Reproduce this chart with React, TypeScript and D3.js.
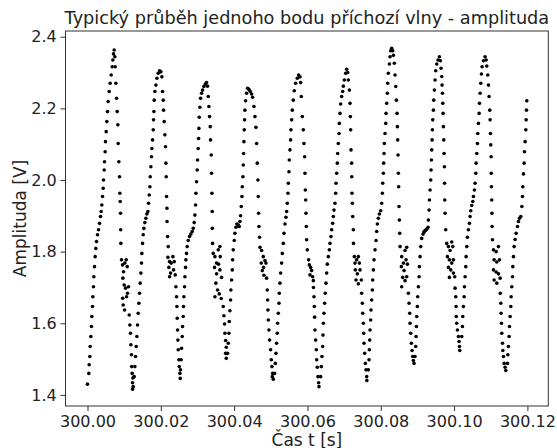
// Scatter of one point of the incoming wave: amplitude over time

import React, { useEffect, useRef } from "react"
import * as d3 from "d3"

// samples as [ms after 300 s, amplitude V], one array per period of the wave
const cycle1: [number, number][] = [
  [0.00, 1.430], [0.36, 1.460], [0.46, 1.484], [0.64, 1.507], [0.73, 1.535], [0.91, 1.563], [1.09, 1.591], [1.18, 1.619],
  [1.37, 1.647], [1.46, 1.674], [1.64, 1.702], [1.73, 1.730], [1.91, 1.758], [2.09, 1.786], [2.28, 1.809], [2.46, 1.828],
  [2.73, 1.847], [3.01, 1.861], [3.28, 1.879], [3.55, 1.898], [3.73, 1.912], [3.91, 1.930], [4.10, 1.954], [4.28, 1.977],
  [4.37, 2.000], [4.55, 2.028], [4.64, 2.051], [4.82, 2.079], [4.91, 2.107], [5.10, 2.135], [5.28, 2.163], [5.46, 2.191],
  [5.64, 2.219], [5.92, 2.247], [6.19, 2.270], [6.46, 2.293], [6.73, 2.316], [6.92, 2.335], [7.10, 2.352], [7.28, 2.363],
  [7.46, 2.344], [7.55, 2.316], [7.74, 2.270], [7.92, 2.228], [8.10, 2.191], [8.28, 2.154], [8.37, 2.102], [8.55, 2.051],
  [8.74, 2.009], [8.83, 1.963], [8.92, 1.940], [9.01, 1.907], [9.05, 1.861], [9.10, 1.823], [9.28, 1.777],
  [9.56, 1.763], [9.83, 1.744], [10.19, 1.768], [10.56, 1.777], [10.83, 1.758], [9.65, 1.726], [10.01, 1.707], [10.37, 1.698],
  [10.92, 1.684], [11.19, 1.702], [9.60, 1.670], [9.74, 1.651], [10.10, 1.637], [10.65, 1.674],
  [11.38, 1.623], [11.56, 1.595], [11.74, 1.572], [11.83, 1.540], [12.01, 1.512], [12.05, 1.479], [12.19, 1.460], [12.38, 1.447],
  [12.28, 1.434], [12.47, 1.423], [12.30, 1.416],
]

const cycle2: [number, number][] = [
  [12.74, 1.451], [12.92, 1.479], [13.10, 1.507], [13.29, 1.535], [13.47, 1.563], [13.65, 1.595], [13.83, 1.628], [14.01, 1.656],
  [14.20, 1.684], [14.38, 1.712], [14.56, 1.740], [14.74, 1.768], [14.83, 1.795], [15.02, 1.823], [15.20, 1.847], [15.38, 1.865],
  [15.65, 1.881], [15.93, 1.893], [16.20, 1.905], [16.47, 1.912], [16.65, 1.935], [16.84, 1.958], [17.02, 1.981], [17.11, 2.009],
  [17.29, 2.037], [17.47, 2.065], [17.56, 2.088], [17.75, 2.112], [17.93, 2.140], [18.02, 2.168], [18.11, 2.191], [18.20, 2.223],
  [18.38, 2.247], [18.66, 2.265], [18.93, 2.284], [19.29, 2.298], [19.66, 2.305], [20.02, 2.302],
  [20.29, 2.288], [20.48, 2.247], [20.66, 2.223], [20.75, 2.195], [20.93, 2.163], [21.11, 2.126], [21.29, 2.093], [21.39, 2.047],
  [21.48, 2.009], [21.57, 1.954], [21.66, 1.921], [21.70, 1.884], [21.84, 1.842], [22.02, 1.814],
  [21.93, 1.784], [22.39, 1.772], [22.84, 1.768], [23.30, 1.786], [23.66, 1.772], [22.20, 1.756], [22.66, 1.740], [23.48, 1.749],
  [23.93, 1.735], [22.39, 1.730],
  [24.12, 1.702], [24.30, 1.674], [24.39, 1.647], [24.48, 1.614], [24.57, 1.581], [24.66, 1.553], [24.75, 1.526], [24.93, 1.498],
  [25.03, 1.479], [25.21, 1.460], [25.30, 1.446],
]

const cycle3: [number, number][] = [
  [25.38, 1.470], [25.56, 1.498], [25.65, 1.530], [25.84, 1.563], [25.93, 1.591], [26.11, 1.619], [26.20, 1.647], [26.29, 1.674],
  [26.47, 1.702], [26.57, 1.730], [26.75, 1.756], [26.84, 1.777], [27.02, 1.795], [27.20, 1.814], [27.48, 1.831], [27.84, 1.842],
  [28.20, 1.849], [28.57, 1.856], [28.84, 1.865], [29.11, 1.881], [29.30, 1.902], [29.48, 1.930], [29.57, 1.963], [29.75, 1.995],
  [29.93, 2.028], [30.02, 2.056], [30.21, 2.088], [30.30, 2.116], [30.39, 2.144], [30.48, 2.175], [30.66, 2.203], [30.84, 2.228],
  [31.12, 2.242], [31.39, 2.251], [31.75, 2.261], [32.12, 2.268], [32.48, 2.272], [32.75, 2.262],
  [32.94, 2.233], [33.12, 2.205], [33.30, 2.177], [33.48, 2.149], [33.57, 2.112], [33.75, 2.070], [33.84, 2.019], [33.94, 1.963],
  [34.03, 1.912], [34.06, 1.865], [34.12, 1.823], [34.30, 1.795],
  [34.76, 1.786], [35.21, 1.768], [35.67, 1.805], [36.12, 1.814], [36.21, 1.786], [35.76, 1.765], [34.66, 1.756], [35.21, 1.738],
  [36.12, 1.749], [36.58, 1.728], [35.03, 1.712], [35.48, 1.693], [35.94, 1.682], [34.76, 1.674], [36.48, 1.669],
  [37.03, 1.647], [37.21, 1.621], [37.39, 1.598], [37.49, 1.572], [37.67, 1.552], [37.85, 1.533], [37.67, 1.516], [37.85, 1.502],
]

const cycle4: [number, number][] = [
  [38.21, 1.516], [38.40, 1.544], [38.58, 1.572], [38.67, 1.605], [38.85, 1.635], [39.03, 1.665], [39.12, 1.693], [39.31, 1.721],
  [39.49, 1.749], [39.58, 1.777], [39.76, 1.805], [40.03, 1.831], [40.22, 1.851], [40.49, 1.868], [40.76, 1.877], [41.13, 1.874],
  [41.40, 1.870], [41.58, 1.884], [41.76, 1.900], [41.94, 1.926], [42.13, 1.954], [42.22, 1.981], [42.40, 2.009], [42.49, 2.042],
  [42.58, 2.074], [42.67, 2.107], [42.76, 2.140], [42.85, 2.168], [42.94, 2.195], [43.13, 2.221], [43.40, 2.242], [43.67, 2.256],
  [44.04, 2.253], [44.40, 2.247], [44.77, 2.240], [45.04, 2.231],
  [45.40, 2.205], [45.68, 2.177], [45.95, 2.147], [46.13, 2.102], [46.31, 2.047], [46.49, 2.000], [46.59, 1.954], [46.68, 1.907],
  [46.77, 1.870], [46.95, 1.840], [47.04, 1.812],
  [47.50, 1.803], [47.95, 1.786], [48.41, 1.775], [47.40, 1.768], [48.04, 1.756], [48.68, 1.768], [47.68, 1.747], [48.13, 1.734],
  [48.86, 1.726],
  [49.04, 1.693], [49.13, 1.665], [49.22, 1.637], [49.32, 1.609], [49.50, 1.581], [49.68, 1.553], [49.95, 1.526], [50.13, 1.498],
  [50.32, 1.479], [50.50, 1.460], [50.68, 1.444], [50.41, 1.451],
]

const cycle5: [number, number][] = [
  [51.04, 1.460], [51.23, 1.488], [51.41, 1.516], [51.59, 1.544], [51.77, 1.572], [51.86, 1.600], [52.05, 1.628], [52.23, 1.656],
  [52.32, 1.684], [52.50, 1.712], [52.68, 1.740], [52.96, 1.768], [53.14, 1.795], [53.41, 1.823], [53.59, 1.851], [53.87, 1.877],
  [54.14, 1.896], [54.32, 1.912], [54.50, 1.935], [54.68, 1.963], [54.78, 1.991], [54.96, 2.023], [55.05, 2.056], [55.23, 2.084],
  [55.41, 2.112], [55.50, 2.140], [55.69, 2.168], [55.87, 2.195], [56.14, 2.223], [56.41, 2.249], [56.78, 2.270], [57.23, 2.284],
  [57.60, 2.293], [57.96, 2.288],
  [58.14, 2.272], [58.32, 2.233], [58.60, 2.177], [58.87, 2.140], [59.05, 2.102], [59.23, 2.065], [59.32, 2.019], [59.42, 1.972],
  [59.51, 1.944], [59.60, 1.907], [59.69, 1.870], [59.78, 1.833], [59.96, 1.805],
  [60.32, 1.777], [60.51, 1.763], [60.87, 1.756], [61.14, 1.747], [60.69, 1.735], [61.42, 1.730], [61.60, 1.719],
  [61.64, 1.700], [61.78, 1.674], [61.87, 1.647], [61.96, 1.617], [62.05, 1.581], [62.23, 1.553], [62.42, 1.526], [62.51, 1.498],
  [62.69, 1.477], [62.87, 1.451], [63.05, 1.434], [63.15, 1.423],
]

const cycle6: [number, number][] = [
  [63.60, 1.451], [63.78, 1.479], [63.96, 1.507], [64.15, 1.535], [64.24, 1.567], [64.33, 1.600], [64.51, 1.628], [64.69, 1.656],
  [64.87, 1.684], [65.06, 1.712], [65.24, 1.740], [65.42, 1.765], [65.69, 1.786], [65.97, 1.805], [66.15, 1.823], [66.42, 1.842],
  [66.60, 1.861], [66.88, 1.879], [67.06, 1.898], [67.24, 1.916], [67.51, 1.935], [67.70, 1.963], [67.79, 1.991], [67.97, 2.019],
  [68.15, 2.047], [68.24, 2.074], [68.42, 2.102], [68.61, 2.130], [68.70, 2.158], [68.88, 2.186], [69.06, 2.212], [69.33, 2.233],
  [69.61, 2.247], [69.79, 2.262], [70.06, 2.279], [70.43, 2.298], [70.70, 2.309], [70.97, 2.300],
  [71.15, 2.279], [71.43, 2.251], [71.61, 2.214], [71.70, 2.177], [71.79, 2.140], [71.88, 2.084], [72.06, 2.047], [72.10, 2.009],
  [72.15, 1.963], [72.25, 1.935], [72.34, 1.898], [72.52, 1.861], [72.56, 1.823],
  [72.79, 1.786], [72.97, 1.768], [73.43, 1.777], [73.88, 1.786], [74.16, 1.768], [73.06, 1.749], [73.61, 1.738], [74.34, 1.749],
  [73.25, 1.721], [73.88, 1.710], [74.70, 1.721],
  [74.79, 1.684], [74.97, 1.656], [75.07, 1.628], [75.25, 1.600], [75.34, 1.572], [75.43, 1.544], [75.61, 1.516], [75.79, 1.488],
  [75.98, 1.470], [76.16, 1.451], [76.20, 1.440],
]

const cycle7: [number, number][] = [
  [76.61, 1.470], [76.80, 1.498], [76.89, 1.526], [76.98, 1.553], [77.07, 1.581], [77.25, 1.609], [77.34, 1.637], [77.52, 1.665],
  [77.71, 1.693], [77.80, 1.721], [77.98, 1.749], [78.16, 1.777], [78.43, 1.805], [78.71, 1.831], [78.89, 1.856], [79.07, 1.877],
  [79.34, 1.893], [79.62, 1.905], [79.98, 1.914], [80.25, 1.935], [80.44, 1.963], [80.53, 1.991], [80.71, 2.019], [80.80, 2.047],
  [80.89, 2.074], [80.98, 2.102], [81.16, 2.130], [81.35, 2.158], [81.44, 2.186], [81.62, 2.214], [81.80, 2.242], [81.89, 2.270],
  [82.07, 2.298], [82.35, 2.324], [82.53, 2.344], [82.71, 2.361], [82.98, 2.368], [83.26, 2.361], [83.44, 2.348],
  [83.71, 2.326], [83.89, 2.293], [84.08, 2.261], [84.26, 2.223], [84.44, 2.186], [84.53, 2.149], [84.62, 2.112], [84.71, 2.070],
  [84.80, 2.019], [84.89, 1.981], [84.98, 1.926], [85.08, 1.888], [85.17, 1.851], [85.26, 1.814],
  [85.71, 1.786], [86.17, 1.768], [86.62, 1.803], [87.08, 1.812], [85.62, 1.758], [86.35, 1.747], [86.90, 1.777], [87.26, 1.765],
  [85.98, 1.728], [86.62, 1.719], [85.71, 1.702], [87.08, 1.730],
  [87.53, 1.684], [87.72, 1.656], [87.90, 1.628], [87.99, 1.600], [88.17, 1.572], [88.35, 1.544], [88.53, 1.524], [88.72, 1.507],
  [88.90, 1.496], [89.08, 1.488],
]

const cycle8: [number, number][] = [
  [89.35, 1.507], [89.53, 1.535], [89.63, 1.563], [89.72, 1.591], [89.81, 1.619], [89.99, 1.647], [90.08, 1.674], [90.26, 1.702],
  [90.45, 1.730], [90.54, 1.758], [90.72, 1.786], [90.90, 1.814], [91.17, 1.837], [91.54, 1.849], [91.81, 1.855], [91.90, 1.857],
  [92.17, 1.859], [92.26, 1.860], [92.63, 1.864], [92.90, 1.868], [92.99, 1.888], [93.18, 1.916], [93.27, 1.944], [93.45, 1.972],
  [93.63, 2.000], [93.72, 2.028], [93.81, 2.056], [93.90, 2.084], [94.00, 2.112], [94.09, 2.140], [94.18, 2.168], [94.36, 2.195],
  [94.45, 2.223], [94.63, 2.251], [94.81, 2.279], [95.00, 2.305], [95.27, 2.324], [95.63, 2.335], [95.99, 2.344], [96.27, 2.333],
  [96.45, 2.312], [96.63, 2.289], [96.72, 2.265], [96.82, 2.242], [96.91, 2.214], [97.00, 2.186], [97.09, 2.149], [97.18, 2.112],
  [97.27, 2.074], [97.36, 2.037], [97.40, 1.991], [97.45, 1.944], [97.54, 1.907], [97.72, 1.861],
  [98.00, 1.823], [98.45, 1.814], [98.91, 1.803], [99.36, 1.827], [99.64, 1.814], [98.18, 1.786], [98.73, 1.777], [99.36, 1.768],
  [99.82, 1.777], [98.45, 1.756], [99.09, 1.749], [99.82, 1.740], [98.73, 1.728], [100.18, 1.730],
  [100.27, 1.698], [100.46, 1.674], [100.55, 1.647], [100.59, 1.619], [100.73, 1.600], [100.91, 1.581], [101.18, 1.563], [101.36, 1.549],
  [101.46, 1.535], [101.55, 1.524],
]

const cycle9: [number, number][] = [
  [102.09, 1.563], [102.28, 1.591], [102.37, 1.619], [102.55, 1.647], [102.73, 1.674], [102.82, 1.702], [103.00, 1.730], [103.19, 1.758],
  [103.28, 1.786], [103.46, 1.814], [103.64, 1.840], [103.91, 1.861], [104.19, 1.879], [104.37, 1.898], [104.55, 1.914], [104.82, 1.929],
  [105.10, 1.940], [105.28, 1.954], [105.55, 1.972], [105.73, 1.991], [105.92, 2.019], [106.01, 2.047], [106.19, 2.074], [106.37, 2.102],
  [106.46, 2.130], [106.64, 2.158], [106.83, 2.186], [106.92, 2.214], [107.10, 2.242], [107.28, 2.270], [107.46, 2.296], [107.64, 2.316],
  [108.01, 2.333], [108.46, 2.344], [108.74, 2.335], [108.92, 2.318],
  [109.19, 2.293], [109.37, 2.265], [109.55, 2.233], [109.74, 2.195], [109.83, 2.168], [109.92, 2.130], [110.01, 2.098], [110.10, 2.065],
  [110.14, 2.019], [110.19, 1.981], [110.28, 1.944], [110.32, 1.907], [110.37, 1.870], [110.47, 1.833],
  [110.74, 1.805], [111.47, 1.800], [112.10, 1.814], [110.92, 1.777], [111.65, 1.771], [112.38, 1.777], [110.74, 1.749], [111.47, 1.743],
  [112.10, 1.738], [110.92, 1.721], [111.65, 1.712], [112.56, 1.726],
  [112.60, 1.684], [112.74, 1.656], [112.83, 1.628], [112.92, 1.600], [113.01, 1.572], [113.20, 1.544], [113.29, 1.524], [113.47, 1.507],
  [113.65, 1.488], [113.92, 1.477], [114.10, 1.468],
]

const cycle10: [number, number][] = [
  [114.56, 1.488], [114.65, 1.512], [114.83, 1.535], [115.01, 1.563], [115.11, 1.591], [115.29, 1.619], [115.47, 1.647], [115.56, 1.674],
  [115.74, 1.702], [115.93, 1.730], [116.02, 1.758], [116.20, 1.786], [116.38, 1.814], [116.65, 1.834], [116.93, 1.851], [117.29, 1.870],
  [117.56, 1.884], [117.84, 1.893], [118.20, 1.898], [118.48, 1.926], [118.66, 1.954], [118.75, 1.981], [118.93, 2.017], [119.11, 2.047],
  [119.20, 2.079], [119.38, 2.107], [119.57, 2.140], [119.66, 2.168], [119.75, 2.195], [119.84, 2.221],
]

const xTicks = [300.0, 300.02, 300.04, 300.06, 300.08, 300.1, 300.12]
const yTicks = [1.4, 1.6, 1.8, 2.0, 2.2, 2.4]
const title = "Typický průběh jednoho bodu příchozí vlny - amplituda"
const xLabel = "Čas t [s]"
const yLabel = "Amplituda [V]"

function App() {
  const ref = useRef<SVGSVGElement>(null)

  useEffect(() => {
    const svg = d3.select(ref.current)
    svg.selectAll("*").remove()

    const width = 557
    const height = 448
    const plot = { left: 65.5, right: 548.3, top: 31, bottom: 406 }
    const font = "DejaVu Sans, sans-serif"
    const axisColor = "#333"

    svg.attr("width", width).attr("height", height)

    const x = d3.scaleLinear().domain([299.994, 300.1257]).range([plot.left, plot.right])
    const y = d3.scaleLinear().domain([1.369, 2.416]).range([plot.bottom, plot.top])

    const points = [cycle1, cycle2, cycle3, cycle4, cycle5, cycle6, cycle7, cycle8, cycle9, cycle10]
      .flat()
      .map(([ms, v]) => ({ t: 300 + ms / 1000, v }))

    svg.append("g")
      .selectAll("circle")
      .data(points)
      .join("circle")
      .attr("cx", d => x(d.t))
      .attr("cy", d => y(d.v))
      .attr("r", 1.8)
      .attr("fill", "#000")

    // frame
    svg.append("rect")
      .attr("x", plot.left)
      .attr("y", plot.top)
      .attr("width", plot.right - plot.left)
      .attr("height", plot.bottom - plot.top)
      .attr("fill", "none")
      .attr("stroke", axisColor)
      .attr("stroke-width", 1)

    const gx = svg.append("g")
      .attr("transform", `translate(0,${plot.bottom})`)
      .call(d3.axisBottom(x).tickValues(xTicks).tickFormat(d3.format(".2f")).tickSize(5).tickPadding(4.7))
    gx.select(".domain").remove()

    const gy = svg.append("g")
      .attr("transform", `translate(${plot.left},0)`)
      .call(d3.axisLeft(y).tickValues(yTicks).tickFormat(d3.format(".1f")).tickSize(5).tickPadding(3.8))
    gy.select(".domain").remove()

    for (const g of [gx, gy]) {
      g.selectAll("line").attr("stroke", axisColor)
      g.selectAll("text").attr("fill", "#222").style("font-family", font).style("font-size", "16px")
    }

    svg.append("text")
      .attr("x", (plot.left + plot.right) / 2)
      .attr("y", 24)
      .attr("text-anchor", "middle")
      .style("font-family", font)
      .style("font-size", "17.7px")
      .attr("fill", "#222")
      .text(title)

    svg.append("text")
      .attr("x", (plot.left + plot.right) / 2)
      .attr("y", 445.5)
      .attr("text-anchor", "middle")
      .style("font-family", font)
      .style("font-size", "17px")
      .attr("fill", "#222")
      .text(xLabel)

    svg.append("text")
      .attr("transform", `translate(25.5,${(plot.top + plot.bottom) / 2}) rotate(-90)`)
      .attr("text-anchor", "middle")
      .style("font-family", font)
      .style("font-size", "17px")
      .attr("fill", "#222")
      .text(yLabel)
  }, [])

  return <svg ref={ref} style={{ position: "absolute", left: 0, top: 0 }}></svg>
}

export default App
